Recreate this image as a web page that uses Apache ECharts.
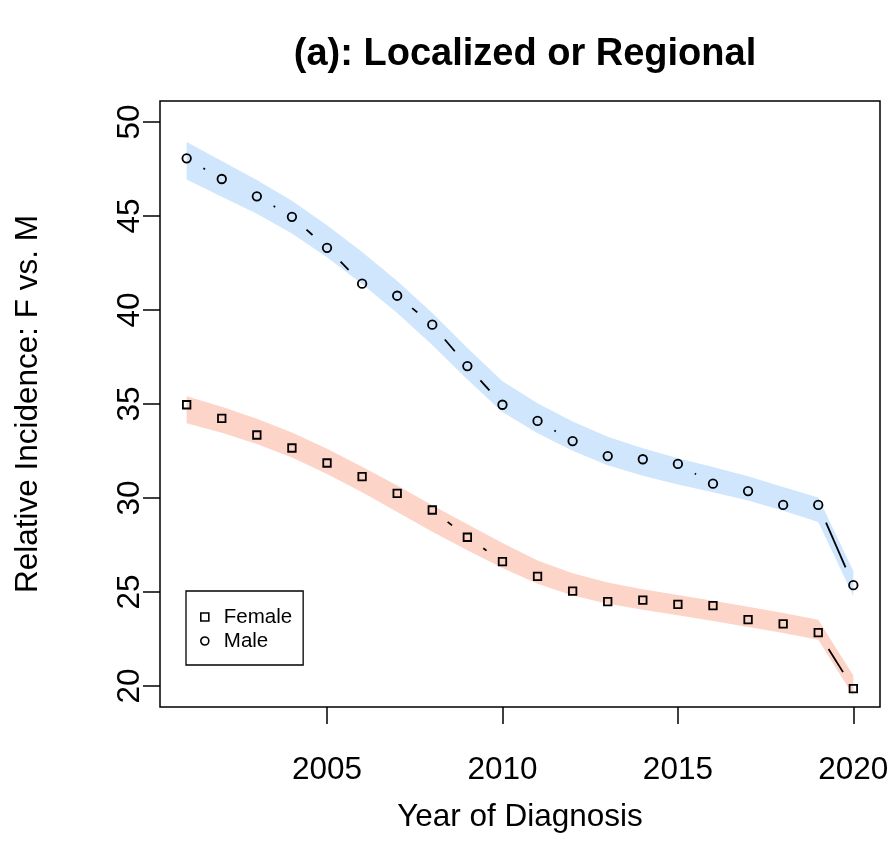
<!DOCTYPE html>
<html>
<head>
<meta charset="utf-8">
<script src="https://cdn.jsdelivr.net/npm/echarts@6/dist/echarts.min.js"></script>
<style>html,body{margin:0;padding:0;background:#fff}#c{width:894px;height:864px}</style>
</head>
<body>
<div id="c"></div>
<script>
const years = [2001,2002,2003,2004,2005,2006,2007,2008,2009,2010,2011,2012,2013,2014,2015,2016,2017,2018,2019,2020];
const femaleRate = [34.96,34.24,33.35,32.66,31.86,31.14,30.25,29.36,27.91,26.61,25.83,25.04,24.49,24.57,24.34,24.27,23.53,23.30,22.84,19.86];
const maleRate = [48.07,46.97,46.05,44.96,43.31,41.40,40.76,39.22,37.02,34.96,34.10,33.03,32.23,32.06,31.81,30.76,30.37,29.63,29.63,25.36];
const femaleUpper = [35.41,34.85,34.21,33.49,32.62,31.66,30.66,29.61,28.60,27.60,26.68,25.99,25.51,25.15,24.84,24.53,24.22,23.88,23.52,20.55];
const femaleLower = [33.97,33.47,32.87,32.15,31.28,30.30,29.26,28.21,27.22,26.28,25.44,24.81,24.37,24.05,23.76,23.45,23.14,22.82,22.46,19.49];
const maleUpper = [48.94,47.93,46.92,45.81,44.51,43.09,41.54,39.84,37.98,36.21,35.04,34.07,33.26,32.64,32.12,31.65,31.15,30.58,30.02,26.12];
const maleLower = [46.94,46.03,45.12,44.07,42.81,41.39,39.84,38.14,36.30,34.57,33.44,32.51,31.74,31.18,30.72,30.31,29.87,29.32,28.72,24.78];
const xTicks = [2005,2010,2015,2020];
const yTicks = [20,25,30,35,40,45,50];

const FONT = 'Liberation Sans, Arial, Helvetica, sans-serif';

function bandSeries(upper, lower, color) {
  return {
    type: 'custom',
    silent: true,
    z: 1,
    clip: true,
    data: [[years[0], lower[0]]],
    encode: { x: 0, y: 1 },
    renderItem: function (params, api) {
      const pts = [];
      for (let i = 0; i < years.length; i++) pts.push(api.coord([years[i], upper[i]]));
      for (let i = years.length - 1; i >= 0; i--) pts.push(api.coord([years[i], lower[i]]));
      return { type: 'polygon', shape: { points: pts }, style: { fill: color, stroke: null } };
    }
  };
}

function segmentSeries(vals) {
  const segs = [];
  for (let i = 0; i < years.length - 1; i++) segs.push([years[i], vals[i], years[i + 1], vals[i + 1]]);
  return {
    type: 'custom',
    silent: true,
    z: 2,
    data: segs,
    encode: { x: [0, 2], y: [1, 3] },
    renderItem: function (params, api) {
      const p0 = api.coord([api.value(0), api.value(1)]);
      const p1 = api.coord([api.value(2), api.value(3)]);
      const dx = p1[0] - p0[0], dy = p1[1] - p0[1];
      const len = Math.sqrt(dx * dx + dy * dy);
      const gap = 19.4;
      if (len <= 2 * gap + 0.5) return null;
      const ux = dx / len, uy = dy / len;
      return {
        type: 'line',
        shape: { x1: p0[0] + ux * gap, y1: p0[1] + uy * gap, x2: p1[0] - ux * gap, y2: p1[1] - uy * gap },
        style: { stroke: '#000', lineWidth: 1.8 }
      };
    }
  };
}

const chart = echarts.init(document.getElementById('c'), null, { renderer: 'canvas' });
chart.setOption({
  animation: false,
  backgroundColor: '#fff',
  title: {
    text: '(a): Localized or Regional',
    left: 520, top: 31, textAlign: 'center',
    textStyle: { fontFamily: FONT, fontSize: 38, fontWeight: 'bold', color: '#000' }
  },
  legend: {
    orient: 'vertical',
    left: 186, top: 591,
    padding: [14, 11, 12, 14],
    itemGap: 0,
    itemWidth: 8, itemHeight: 8,
    borderColor: '#000', borderWidth: 1.3, borderRadius: 0,
    textStyle: { fontFamily: FONT, fontSize: 20.5, color: '#000', lineHeight: 24, padding: [0, 0, 0, 10] },
    data: [
      { name: 'Female', icon: 'rect', itemStyle: { color: 'rgba(0,0,0,0)', borderColor: '#000', borderWidth: 1.6 } },
      { name: 'Male', icon: 'circle', itemStyle: { color: 'rgba(0,0,0,0)', borderColor: '#000', borderWidth: 1.6 } }
    ]
  },
  grid: { left: 160, right: 14, top: 101, bottom: 157, show: true, borderColor: '#000', borderWidth: 1.5, backgroundColor: 'transparent' },
  xAxis: {
    type: 'value', min: 2000.24, max: 2020.76,
    name: 'Year of Diagnosis', nameLocation: 'middle', nameGap: 94,
    nameTextStyle: { fontFamily: FONT, fontSize: 31.5, color: '#000' },
    axisLine: { show: false },
    axisTick: { show: true, inside: false, length: 17, lineStyle: { color: '#000', width: 1.5 }, customValues: xTicks },
    axisLabel: { fontFamily: FONT, fontSize: 31.5, color: '#000', margin: 47, customValues: xTicks, formatter: v => String(v) },
    splitLine: { show: false }
  },
  yAxis: {
    type: 'value', min: 18.88, max: 51.12,
    name: 'Relative Incidence: F vs. M', nameLocation: 'middle', nameGap: 116, nameRotate: 90,
    nameTextStyle: { fontFamily: FONT, fontSize: 31.5, color: '#000' },
    axisLine: { show: false },
    axisTick: { show: true, inside: false, length: 17, lineStyle: { color: '#000', width: 1.5 }, customValues: yTicks },
    axisLabel: { fontFamily: FONT, fontSize: 31.5, color: '#000', margin: 14, rotate: 90, customValues: yTicks, formatter: v => String(v) },
    splitLine: { show: false }
  },
  series: [
    bandSeries(maleUpper, maleLower, 'rgb(207,230,253)'),
    bandSeries(femaleUpper, femaleLower, 'rgb(252,213,200)'),
    segmentSeries(maleRate),
    segmentSeries(femaleRate),
    {
      name: 'Female', type: 'scatter', z: 3, symbol: 'rect', symbolSize: 7.5,
      itemStyle: { color: 'rgba(0,0,0,0)', borderColor: '#000', borderWidth: 1.8, opacity: 1 },
      data: years.map((y, i) => [y, femaleRate[i]])
    },
    {
      name: 'Male', type: 'scatter', z: 3, symbol: 'circle', symbolSize: 8.5,
      itemStyle: { color: 'rgba(0,0,0,0)', borderColor: '#000', borderWidth: 1.8, opacity: 1 },
      data: years.map((y, i) => [y, maleRate[i]])
    }
  ]
});
</script>
</body>
</html>
